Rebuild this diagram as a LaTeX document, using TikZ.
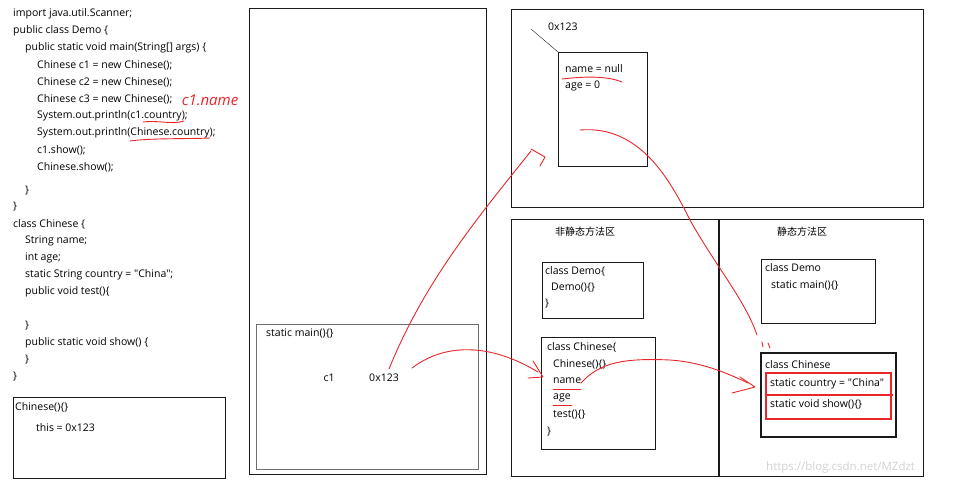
\documentclass[tikz,border=0pt]{standalone}
\usepackage{fontspec}
\setmainfont{Open Sans}[Ligatures=TeXOff]
\newfontfamily\cjkfont{Noto Sans CJK SC}
\usetikzlibrary{positioning,arrows.meta}
\definecolor{pen}{HTML}{E8262B}
\definecolor{edge}{HTML}{1A1A1A}
\definecolor{soft}{HTML}{6E6E6E}

\begin{document}
\begin{tikzpicture}[
	x=1pt, y=-1pt,
	font=\fontsize{10.5}{12}\selectfont,
	code/.style={anchor=west, inner sep=0pt},
	area/.style={draw=edge, line width=1.4pt, anchor=north west, inner sep=0pt},
	cls/.style={draw=edge, line width=1.2pt, anchor=north west, inner sep=0pt},
	frame/.style={draw=soft, line width=1.2pt, anchor=north west, inner sep=0pt},
	ink/.style={draw=pen, line width=0.9pt, line cap=round, line join=round}
	]
	\useasboundingbox (0,0) rectangle (964,487);
	% source code
	\node[code] (imp)    at (13,14)  {import java.util.Scanner;};
	\node[code] (demo)   at (13,31)  {public class Demo \{};
	\node[code] (main)   at (25,48)  {public static void main(String[] args) \{};
	\node[code] (new1)   at (37,65)  {Chinese c1 = new Chinese();};
	\node[code] (new2)   at (37,82)  {Chinese c2 = new Chinese();};
	\node[code] (new3)   at (37,99)  {Chinese c3 = new Chinese();};
	\node[code] (prt1)   at (37,116) {System.out.println(c1.country);};
	\node[code] (prt2)   at (37,133) {System.out.println(Chinese.country);};
	\node[code] (show1)  at (37,150) {c1.show();};
	\node[code] (show2)  at (37,167) {Chinese.show();};
	\node[code] (endm)   at (25,191) {\}};
	\node[code] (endd)   at (13,207) {\}};
	\node[code] (chn)    at (13,224) {class Chinese \{};
	\node[code] (fname)  at (25,241) {String name;};
	\node[code] (fage)   at (25,258) {int age;};
	\node[code] (fctry)  at (25,275) {static String country = "China";};
	\node[code] (ftest)  at (25,292) {public void test()\{};
	\node[code] (endt)   at (25,326) {\}};
	\node[code] (fshow)  at (25,343) {public static void show() \{};
	\node[code] (ends)   at (25,360) {\}};
	\node[code] (endc)   at (13,377) {\}};
	% constructor frame
	\node[frame, draw=edge, minimum width=212pt, minimum height=81pt] (ctor) at (13,397) {};
	\node[code] (ctorname) at (15,407) {Chinese()\{\}};
	\node[code] (ctorthis) at (36,428) {this = 0x123};

	% stack
	\node[area, minimum width=237pt, minimum height=466pt] (stack) at (249,8) {};
	\node[frame, minimum width=222pt, minimum height=145pt] (mainfr) at (256,324) {};
	\node[code] (mainname) at (266,333) {static main()\{\}};
	\node (var) at (329,378) {c1};
	\node (addr) at (384,378) {0x123};

	% heap
	\node[area, minimum width=412pt, minimum height=198pt] (heap) at (511,9) {};
	\node[cls, line width=1pt, minimum width=89pt, minimum height=114pt] (obj) at (558,52) {};
	\node[code] (objaddr) at (548,27) {0x123};
	\node[code] (objname) at (565,69) {name = null};
	\node[code] (objage)  at (565,86) {age = 0};
	\draw[edge] (531,29) -- (obj.north west);

	% method area
	\node[area, minimum width=412pt, minimum height=257pt] (meth) at (511,219) {};
	\draw[area] (719,219) -- (719,476);
	\node[font=\cjkfont\fontsize{10}{12}\selectfont] (dynarea) at (585,232) {非静态方法区};
	\node[font=\cjkfont\fontsize{10}{12}\selectfont] (statarea) at (802,232) {静态方法区};

	% non-static classes
	\node[cls, minimum width=101pt, minimum height=56pt] (demoA) at (542,262) {};
	\node[code] at (545,271) {class Demo\{};
	\node[code] at (551,288) {Demo()\{\}};
	\node[code] at (545,304) {\}};
	\node[cls, minimum width=114pt, minimum height=112pt] (chnA) at (541,337) {};
	\node[code] (chnAhead) at (547,347) {class Chinese\{};
	\node[code] (chnActor) at (553,364) {Chinese()\{\}};
	\node[code] (chnAname) at (553,381) {name};
	\node[code] (chnAage)  at (553,398) {age};
	\node[code] (chnAtest) at (553,415) {test()\{\}};
	\node[code] (chnAend)  at (547,432) {\}};

	% static classes
	\node[cls, minimum width=114pt, minimum height=64pt] (demoB) at (761,259) {};
	\node[code] at (765,268) {class Demo};
	\node[code] at (771,285) {static main()\{\}};
	\node[cls, line width=1.6pt, minimum width=135pt, minimum height=84pt] (chnB) at (760,352) {};
	\node[code] (chnBhead) at (765,365) {class Chinese};
	\coordinate (statnw) at (766,373);
	\coordinate (statse) at (891,419);
	\draw[ink, line width=1.4pt, line cap=butt, line join=miter] (statnw) rectangle (statse);
	\node[code] (chnBctry) at (770,384) {static country = "China"};
	\node[code] (chnBshow) at (770,404) {static void show()\{\}};
	\draw[ink, line width=1.2pt, line cap=butt] (766,395) -- (893,395);

	% watermark
	\node[code, text=gray!35, font=\fontsize{11.5}{13}\selectfont] (mark) at (766,468) {https://blog.csdn.net/MZdzt};

	% red notes
	\node[text=pen, font=\itshape\fontsize{15}{16}\selectfont] (note) at (210,100) {c1.name};
	\draw[ink] (143,122) .. controls (160,120) and (172,125) .. (184,121);
	\draw[ink] (130,141) .. controls (150,138) and (190,139) .. (210,138);
	\draw[ink] (562,79) .. controls (580,77) and (605,75) .. (622,82);
	\draw[ink] (553,389) -- (581,389);
	\draw[ink] (553,405) -- (572,405);

	% red arrows
	\coordinate (tipheap) at (545,157);
	\coordinate (tipdyn)  at (543,377);
	\coordinate (tipstat) at (755,387);
	\draw[ink] (389,369) .. controls (425,280) and (480,215) .. (531,151);
	\draw[ink] (531,149) -- (tipheap) -- (540,166);
	\draw[ink] (412,368) .. controls (445,343) and (490,343) .. (538,372);
	\draw[ink] (533,361) -- (tipdyn) -- (528,378);
	\draw[ink] (581,383) .. controls (600,362) and (625,358) .. (670,360) .. controls (700,362) and (725,372) .. (748,383);
	\draw[ink] (740,377) -- (tipstat) -- (732,393);
	\draw[ink] (580,130) .. controls (640,125) and (670,180) .. (690,220) .. controls (715,265) and (745,300) .. (757,335);
	\draw[ink] (762,342) -- (763,347);
	\draw[ink] (768,343) -- (770,348);
\end{tikzpicture}
\end{document}
